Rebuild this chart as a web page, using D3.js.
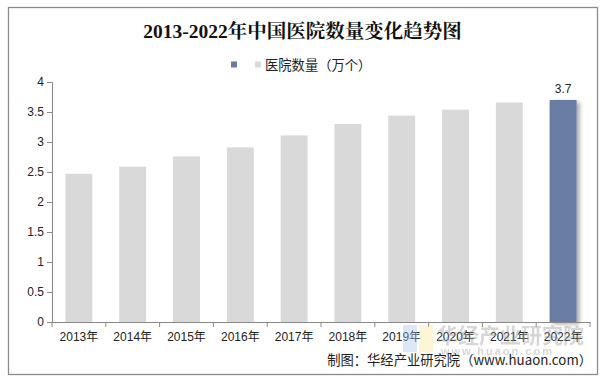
<!DOCTYPE html>
<html><head><meta charset="utf-8">
<script src="https://cdn.jsdelivr.net/npm/d3@7"></script>
<style>body{margin:0;background:#fff}svg{display:block}</style>
</head><body>
<svg id="c" width="606" height="381"></svg>
<script>
const categories = ["2013年","2014年","2015年","2016年","2017年","2018年","2019年","2020年","2021年","2022年"];
const values = [2.47, 2.59, 2.76, 2.91, 3.11, 3.30, 3.44, 3.54, 3.66, 3.70];
const yTicks = [0, 0.5, 1, 1.5, 2, 2.5, 3, 3.5, 4];
const titleText = "2013-2022年中国医院数量变化趋势图";
const seriesName = "医院数量（万个）";
const sourceText = "制图：华经产业研究院（www.huaon.com）";

const svg = d3.select("#c");
const font = "'Liberation Sans', Arial, 'Noto Sans CJK SC', sans-serif";

svg.append("rect").attr("x",8.5).attr("y",7.5).attr("width",589).attr("height",367)
  .attr("fill","#fff").attr("stroke","#8c8c8c").attr("stroke-width",1.3);

const x = d3.scaleBand().domain(categories).range([52, 590]).paddingInner(0.5).paddingOuter(0.25);
const y = d3.scaleLinear().domain([0,4]).range([322, 82]);

const defs = svg.append("defs");
const f = defs.append("filter").attr("id","sh").attr("x","-20%").attr("y","-20%").attr("width","160%").attr("height","140%");
f.append("feDropShadow").attr("dx",3).attr("dy",2).attr("stdDeviation",2).attr("flood-color","#000").attr("flood-opacity",0.35);

// bars
svg.append("g").selectAll("rect").data(values).join("rect")
  .attr("x",(d,i)=>x(categories[i]))
  .attr("y",d=>y(d))
  .attr("width",x.bandwidth())
  .attr("height",d=>y(0)-y(d))
  .attr("fill",(d,i)=> i===values.length-1 ? "#687ca4" : "#d9d9d9")
  .attr("filter",(d,i)=> i===values.length-1 ? "url(#sh)" : null);

// axes
const ya = d3.axisLeft(y).tickValues(yTicks).tickSize(5).tickFormat(d=>d3.format("")(d));
const gy = svg.append("g").attr("transform","translate(52,0)").call(ya);
gy.select(".domain").attr("stroke","#888");
gy.selectAll(".tick line").attr("stroke","#888");
gy.selectAll("text").attr("font-family",font).attr("font-size",12).attr("fill","#222").attr("x",-8);

const xa = d3.axisBottom(x).tickSize(0).tickSizeOuter(0);
const gx = svg.append("g").attr("transform","translate(0,322)").call(xa);
gx.select(".domain").attr("stroke","#888");
gx.selectAll("text").attr("font-family",font).attr("font-size",12).attr("fill","#222").attr("dy","1.35em");
// category boundary ticks
const bounds = d3.range(categories.length+1).map(i=>52 + i*(538/categories.length));
svg.append("g").selectAll("line").data(bounds).join("line")
  .attr("x1",d=>d).attr("x2",d=>d).attr("y1",322).attr("y2",327).attr("stroke","#888");

// value label on last bar
const li = values.length-1;
svg.append("text").attr("x",x(categories[li])+x.bandwidth()/2).attr("y",y(values[li])-7)
  .attr("text-anchor","middle").attr("font-family",font).attr("font-size",12).attr("fill","#222")
  .text(values[li].toFixed(1));

// title
svg.append("text").attr("x",302.5).attr("y",37.5).attr("text-anchor","middle")
  .attr("font-family","'Liberation Serif','Noto Serif CJK SC','Noto Sans CJK SC',serif")
  .attr("font-size",19.5).attr("font-weight","bold").attr("fill","#111").text(titleText);

// legend
svg.append("rect").attr("x",231).attr("y",61.5).attr("width",6).attr("height",6).attr("fill","#687ca4");
svg.append("rect").attr("x",255).attr("y",61.5).attr("width",6).attr("height",6).attr("fill","#d9d9d9");
svg.append("text").attr("x",265).attr("y",70).attr("font-family","'Noto Sans CJK SC',sans-serif")
  .attr("font-size",13.3).attr("fill","#222").text(seriesName);

// watermark
const wm = svg.append("g").attr("opacity",0.4);
wm.append("rect").attr("x",403).attr("y",325).attr("width",14).attr("height",27).attr("fill","#a9c8f0");
wm.append("rect").attr("x",419).attr("y",325).attr("width",14).attr("height",27).attr("fill","#fde89a");
wm.append("text").attr("x",437).attr("y",343).attr("font-family","'Noto Sans CJK SC',sans-serif")
  .attr("font-size",21).attr("font-weight","bold").attr("fill","#9a9a9a").text("华经产业研究院");
wm.append("text").attr("x",441).attr("y",355).attr("font-family",font)
  .attr("font-size",11).attr("font-weight","bold").attr("fill","#9a9a9a").attr("letter-spacing",2).text("www.huaon.com");

// source
svg.append("text").attr("x",592).attr("y",365).attr("text-anchor","end")
  .attr("font-family","'Noto Sans CJK SC',sans-serif").attr("font-size",13.3).attr("fill","#222").text(sourceText);
</script>
</body></html>
